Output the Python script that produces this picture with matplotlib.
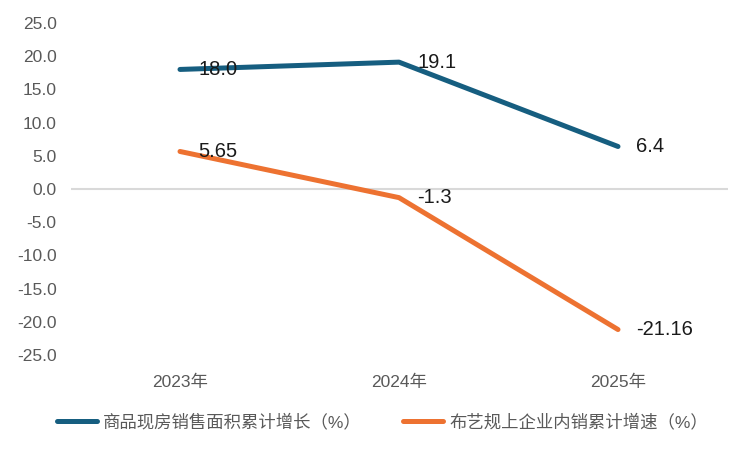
import matplotlib
matplotlib.use("Agg")
import matplotlib.pyplot as plt

# Fonts: Latin first, CJK fallback
plt.rcParams['font.family'] = ['Liberation Sans', 'Noto Sans CJK SC']
plt.rcParams['axes.unicode_minus'] = False

# Data
years = ["2023年", "2024年", "2025年"]
housing = [18.0, 19.1, 6.4]
housing_labels = ["18.0", "19.1", "6.4"]
fabric = [5.65, -1.3, -21.16]
fabric_labels = ["5.65", "-1.3", "-21.16"]
series_names = ["商品现房销售面积累计增长（%）", "布艺规上企业内销累计增速（%）"]
y_ticks = [-25, -20, -15, -10, -5, 0, 5, 10, 15, 20, 25]

BLUE = "#165E80"
ORANGE = "#ED7231"
GRAY = "#595959"

fig = plt.figure(figsize=(7.5, 4.5), dpi=100)
ax = fig.add_axes([0.094, 0.211, 0.876, 0.738])

x = list(range(len(years)))
ax.axhline(0, color="#D9D9D9", lw=1.5, zorder=1)
ax.plot(x, housing, color=BLUE, lw=3.6, solid_capstyle="round",
        solid_joinstyle="round", label=series_names[0], zorder=3)
ax.plot(x, fabric, color=ORANGE, lw=3.6, solid_capstyle="round",
        solid_joinstyle="round", label=series_names[1], zorder=3)

# Data labels to the right of each point
for xs, ys, labs in [(x, housing, housing_labels), (x, fabric, fabric_labels)]:
    for xi, yi, lab in zip(xs, ys, labs):
        ax.annotate(lab, (xi, yi), xytext=(13, 0), textcoords="offset points",
                    va="center", ha="left", fontsize=14.5, color="#1A1A1A",
                    zorder=4)

ax.set_xlim(-0.5, 2.5)
ax.set_ylim(-25, 25)
ax.set_yticks(y_ticks)
ax.set_yticklabels([f"{v:.1f}" for v in y_ticks])
ax.set_xticks(x)
ax.set_xticklabels(years)
ax.tick_params(axis="both", length=0, labelsize=12.5, labelcolor=GRAY)
ax.tick_params(axis="y", pad=10)
ax.tick_params(axis="x", pad=14)
for s in ax.spines.values():
    s.set_visible(False)

fig.legend(loc="center", bbox_to_anchor=(0.51, 0.062), ncol=2, frameon=False,
           fontsize=12.5, labelcolor=GRAY, handlelength=2.3, handletextpad=0.35,
           columnspacing=2.4)

fig.savefig("out.png", dpi=100)
